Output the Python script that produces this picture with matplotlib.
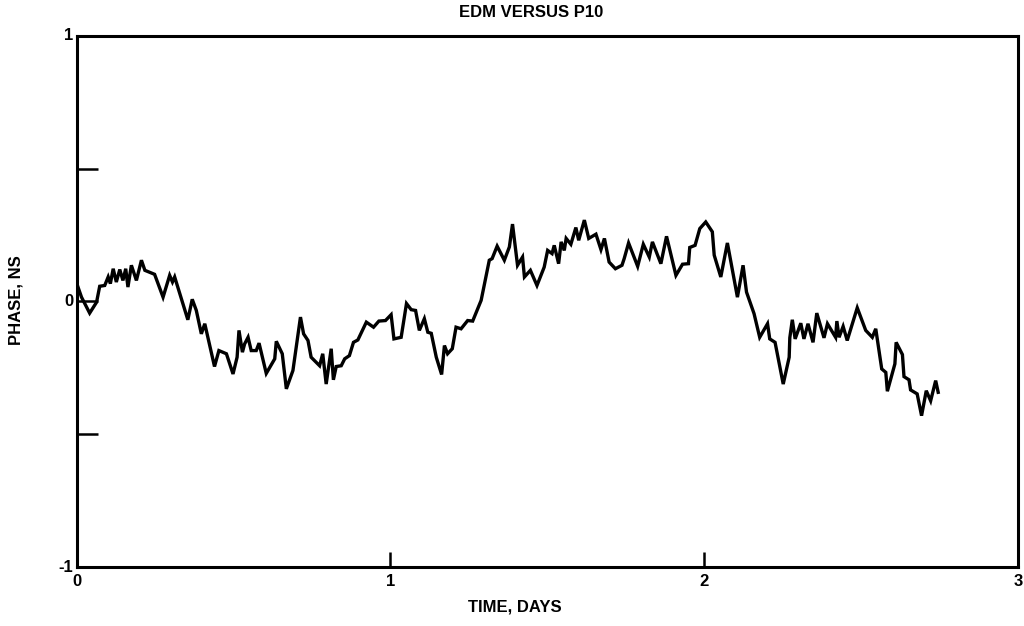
import matplotlib

matplotlib.use("Agg")
import matplotlib.pyplot as plt

# Phase of EDM relative to P10, traced vertex by vertex
days = [
    0.000, 0.015, 0.041, 0.063, 0.073, 0.089, 0.100, 0.107, 0.116, 0.126,
    0.137, 0.147, 0.156, 0.163, 0.174, 0.190, 0.206, 0.217, 0.248, 0.275,
    0.296, 0.305, 0.312, 0.354, 0.368, 0.381, 0.397, 0.408, 0.439, 0.453,
    0.477, 0.498, 0.511, 0.517, 0.528, 0.535, 0.546, 0.556, 0.572, 0.581,
    0.604, 0.631, 0.636, 0.655, 0.668, 0.689, 0.713, 0.723, 0.737, 0.747,
    0.774, 0.784, 0.795, 0.811, 0.818, 0.827, 0.843, 0.854, 0.869, 0.882,
    0.896, 0.923, 0.946, 0.963, 0.984, 1.002, 1.011, 1.034, 1.051, 1.066,
    1.080, 1.092, 1.108, 1.119, 1.130, 1.146, 1.163, 1.172, 1.182, 1.197,
    1.209, 1.225, 1.246, 1.262, 1.289, 1.315, 1.324, 1.340, 1.363, 1.379,
    1.389, 1.405, 1.421, 1.427, 1.446, 1.467, 1.490, 1.501, 1.515, 1.522,
    1.536, 1.544, 1.554, 1.560, 1.575, 1.591, 1.600, 1.618, 1.632, 1.655,
    1.671, 1.682, 1.697, 1.717, 1.738, 1.745, 1.759, 1.788, 1.806, 1.825,
    1.835, 1.862, 1.880, 1.910, 1.931, 1.950, 1.954, 1.971, 1.986, 2.005,
    2.026, 2.032, 2.053, 2.074, 2.106, 2.124, 2.135, 2.159, 2.177, 2.202,
    2.209, 2.226, 2.252, 2.271, 2.273, 2.281, 2.290, 2.308, 2.318, 2.331,
    2.347, 2.359, 2.382, 2.393, 2.419, 2.423, 2.430, 2.443, 2.456, 2.488,
    2.515, 2.536, 2.547, 2.566, 2.579, 2.584, 2.608, 2.612, 2.632, 2.637,
    2.653, 2.658, 2.679, 2.693, 2.708, 2.722, 2.738, 2.746,
]
phase_ns = [
    0.067, 0.016, -0.044, -0.003, 0.057, 0.060, 0.092, 0.067, 0.123, 0.073,
    0.120, 0.079, 0.123, 0.054, 0.136, 0.079, 0.155, 0.117, 0.102, 0.016,
    0.098, 0.073, 0.092, -0.069, 0.008, -0.034, -0.122, -0.084, -0.245, -0.185,
    -0.197, -0.273, -0.210, -0.109, -0.191, -0.160, -0.135, -0.185, -0.185, -0.157,
    -0.271, -0.216, -0.150, -0.197, -0.329, -0.260, -0.059, -0.122, -0.147, -0.210,
    -0.242, -0.197, -0.311, -0.178, -0.295, -0.245, -0.242, -0.216, -0.204, -0.154,
    -0.145, -0.078, -0.097, -0.074, -0.072, -0.050, -0.141, -0.135, -0.008, -0.031,
    -0.034, -0.109, -0.065, -0.116, -0.120, -0.210, -0.275, -0.166, -0.197, -0.178,
    -0.097, -0.103, -0.072, -0.074, 0.004, 0.155, 0.161, 0.208, 0.155, 0.205,
    0.291, 0.136, 0.167, 0.092, 0.117, 0.060, 0.129, 0.192, 0.180, 0.211,
    0.142, 0.224, 0.192, 0.237, 0.215, 0.278, 0.230, 0.306, 0.237, 0.253,
    0.195, 0.237, 0.148, 0.123, 0.136, 0.161, 0.220, 0.132, 0.215, 0.167,
    0.224, 0.142, 0.245, 0.098, 0.140, 0.142, 0.203, 0.211, 0.274, 0.299,
    0.262, 0.174, 0.092, 0.220, 0.016, 0.136, 0.035, -0.046, -0.135, -0.084,
    -0.141, -0.154, -0.311, -0.210, -0.137, -0.069, -0.141, -0.082, -0.141, -0.084,
    -0.154, -0.044, -0.137, -0.084, -0.135, -0.074, -0.135, -0.094, -0.147, -0.024,
    -0.109, -0.135, -0.103, -0.254, -0.267, -0.338, -0.235, -0.154, -0.200, -0.283,
    -0.295, -0.333, -0.348, -0.430, -0.336, -0.374, -0.298, -0.342,
]

x_ticks = [1, 2]
x_labels = ["0", "1", "2", "3"]
y_ticks = [-0.5, 0, 0.5]
y_labels = ["-1", "0", "1"]

plt.rcParams["font.family"] = ["Liberation Sans Narrow", "Liberation Sans", "DejaVu Sans"]
plt.rcParams["font.weight"] = "bold"

fig = plt.figure(figsize=(10.24, 6.26), dpi=100)
ax = fig.add_axes([0.075, 0.094, 0.919, 0.849])

ax.plot(days, phase_ns, color="black", linewidth=2.4, solid_joinstyle="miter")

ax.set_xlim(0, 3)
ax.set_ylim(-1, 1)
for side in ax.spines.values():
    side.set_linewidth(2.2)

# inward ticks only at the interior positions; end values are labelled separately
ax.set_xticks(x_ticks)
ax.set_yticks(y_ticks)
ax.set_xticklabels([])
ax.set_yticklabels([])
ax.tick_params(axis="x", direction="in", length=11, width=1.8, top=False)
ax.tick_params(axis="y", direction="in", length=15, width=1.8, right=False)

for xv, lab in zip([0, 1, 2, 3], x_labels):
    ax.text(xv, -1.025, lab, ha="center", va="top", fontsize=12,
            transform=ax.transData, clip_on=False)
for yv, lab in zip([-1, 0, 1], y_labels):
    ax.text(-0.012, yv, lab, ha="right", va="center", fontsize=12,
            transform=ax.transData, clip_on=False)

fig.text(0.519, 0.98, "EDM VERSUS P10", ha="center", va="center", fontsize=12)
fig.text(0.503, 0.030, "TIME, DAYS", ha="center", va="center", fontsize=12)
fig.text(0.016, 0.52, "PHASE, NS", ha="center", va="center", rotation=90, fontsize=12)

fig.savefig("out.png", dpi=100)
